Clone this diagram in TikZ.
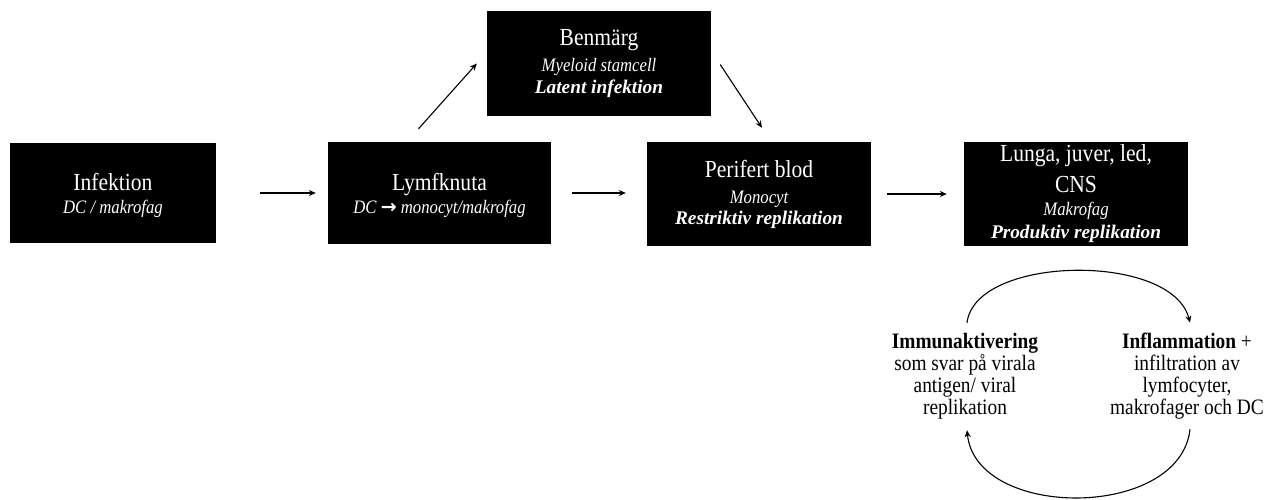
\documentclass[tikz,border=0pt]{standalone}
\usepackage{fontspec}
\setmainfont{Liberation Serif}[FakeStretch=0.88]
\newfontfamily\bifont{Liberation Serif}
\newfontfamily\dejavu{DejaVu Sans}
\usetikzlibrary{arrows.meta}
\begin{document}
\begin{tikzpicture}[x=1pt,y=-1pt,
  box/.style={fill=black,text=white,inner sep=0pt,align=center,
    font=\fontsize{24.5}{22}\selectfont},
  arr/.style={line width=1.1pt,-{Stealth[length=7pt,width=6pt]}},
  cyc/.style={line width=1.1pt,-{Stealth[length=7pt,width=6pt]}},
  ctext/.style={align=center,inner sep=0pt,font=\fontsize{22}{22}\selectfont}]
\useasboundingbox (0,0) rectangle (1265,500);
\newcommand{\itl}[1]{{\fontsize{19}{22}\selectfont\itshape #1}}
\newcommand{\bil}[1]{{\bifont\fontsize{19.3}{22}\selectfont\bfseries\itshape #1}}
\node[box,minimum width=206pt,minimum height=100pt] (inf) at (113,193)
  {\rule{0pt}{23pt}Infektion\\[1pt]\itl{DC / makrofag}};
\node[box,minimum width=223pt,minimum height=102pt] (lymf) at (439.5,193)
  {\rule{0pt}{23pt}Lymfknuta\\[1pt]\itl{DC {\dejavu\bfseries\fontsize{19}{22}\selectfont →} monocyt/makrofag}};
\node[box,minimum width=224pt,minimum height=105pt] (benm) at (599,63.5)
  {Benmärg\\[4pt]\itl{Myeloid stamcell}\\\bil{Latent infektion}};
\node[box,minimum width=224pt,minimum height=104pt] (perif) at (759,194)
  {Perifert blod\\[4pt]\itl{Monocyt}\\[-1pt]\bil{Restriktiv replikation}};
\node[box,minimum width=224pt,minimum height=104pt] (lunga) at (1076,194)
  {Lunga, juver, led,\\[9pt]CNS\\[1pt]\itl{Makrofag}\\[1pt]\bil{Produktiv replikation}};
\draw[arr,shorten <=44pt,shorten >=12pt] (inf.east) -- (inf.east -| lymf.west);
\draw[arr,shorten <=21pt,shorten >=21pt] (lymf.east) -- (lymf.east -| perif.west);
\draw[arr,shorten <=16pt,shorten >=17pt] (perif.east) -- (perif.east -| lunga.west);
\draw[arr] ([shift={(-21,-13)}]lymf.north) -- ([shift={(-10,0)}]benm.west);
\draw[arr] ([shift={(9,1)}]benm.east) -- ([shift={(3,-14)}]perif.north);
\node[ctext] (immun) at (965,376)
  {\textbf{Immunaktivering}\\som svar på virala\\antigen/ viral\\replikation};
\node[ctext] (infl) at (1187,376)
  {\textbf{Inflammation} +\\infiltration av\\lymfocyter,\\makrofager och DC};
\draw[cyc] ([shift={(2,-10)}]immun.north) .. controls (975,255) and (1172,252) .. ([shift={(3,-10)}]infl.north);
\draw[cyc] ([shift={(3,10)}]infl.south) .. controls (1180,520) and (976,520) .. ([shift={(2,11)}]immun.south);
\end{tikzpicture}
\end{document}
